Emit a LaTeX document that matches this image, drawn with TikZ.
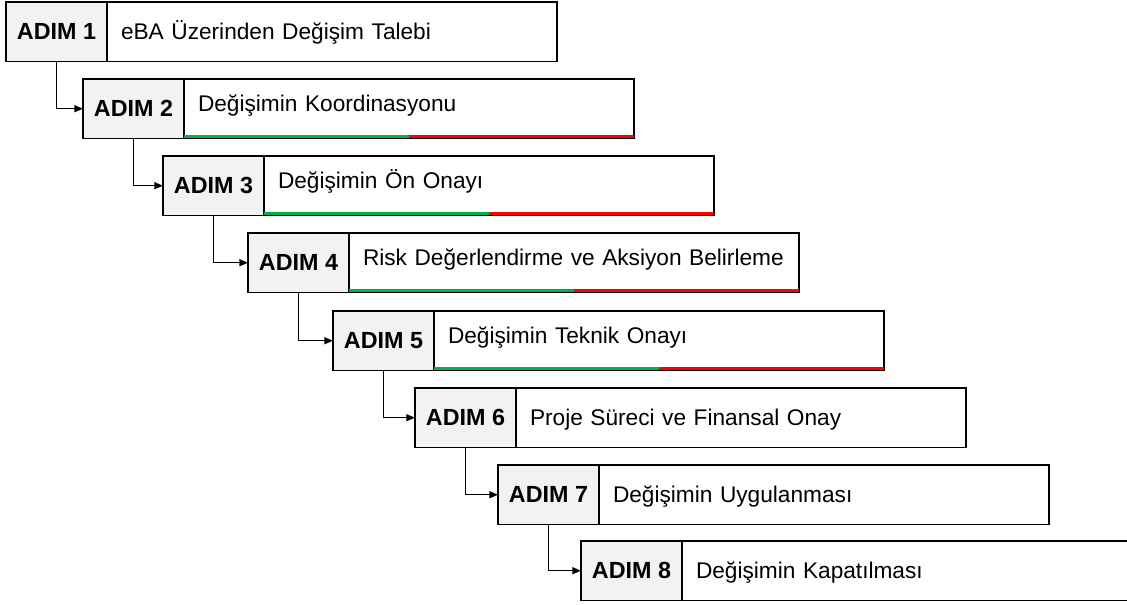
\documentclass[tikz,border=0pt]{standalone}
\usepackage{fontspec}
\setmainfont{Liberation Sans}
\usetikzlibrary{arrows.meta,positioning}

\definecolor{adimgray}{HTML}{F2F2F2}
\definecolor{okgreen}{HTML}{00B050}
\definecolor{nored}{HTML}{FF0000}

\tikzset{
    adimbox/.style={draw, line width=1pt, fill=adimgray, outer sep=0pt, inner sep=0pt,
        minimum width=75.75pt, minimum height=44.6pt, font=\fontsize{17.5}{21}\selectfont\bfseries},
    stepbox/.style={draw, line width=1pt, fill=white, outer sep=0pt, inner xsep=10.5pt, inner ysep=0pt,
        text width=316.5pt, align=left, minimum height=44.6pt, text height=12.2pt,
        font=\fontsize{17}{20}\selectfont},
    flow/.style={line width=1pt, -{Triangle[length=6.5pt,width=5.25pt]}},
    greenbar/.style={okgreen, line width=2.3pt},
    redbar/.style={nored, line width=2.3pt}
}

\begin{document}
\begin{tikzpicture}[x=0.75pt, y=-0.75pt]
    \useasboundingbox (0,0) rectangle (1127,605);

    % Steps
    \foreach \i/\x/\y/\txt/\bar in {1/6/2/{eBA Üzerinden Değişim Talebi}/0,
                                    2/83/79/{Değişimin Koordinasyonu}/1,
                                    3/163/156/{Değişimin Ön Onayı}/1,
                                    4/248/233/{Risk Değerlendirme ve Aksiyon Belirleme}/1,
                                    5/333/311/{Değişimin Teknik Onayı}/1,
                                    6/415/388/{Proje Süreci ve Finansal Onay}/0,
                                    7/498/465/{Değişimin Uygulanması}/0,
                                    8/581/541/{Değişimin Kapatılması}/0} {
        \ifnum\bar=1 \def\tdepth{8.6pt}\else\def\tdepth{0pt}\fi
        \node[adimbox, anchor=north west] (adim\i) at (\x, \y) {ADIM \i};
        \node[stepbox, text depth=\tdepth, anchor=west] (txt\i) at (adim\i.east) {\txt};
    }

    % Green / red bars
    \foreach \i in {2,...,5} {
        \draw[greenbar] ([yshift=1.6pt]txt\i.south west) -- ([yshift=1.6pt]txt\i.south);
        \draw[redbar] ([yshift=1.6pt]txt\i.south) -- ([yshift=1.6pt]txt\i.south east);
    }

    % Connectors
    \foreach \i [evaluate=\i as \j using int(\i+1)] in {1,...,7}
        \draw[flow] (adim\i.south) |- (adim\j.west);
\end{tikzpicture}
\end{document}
